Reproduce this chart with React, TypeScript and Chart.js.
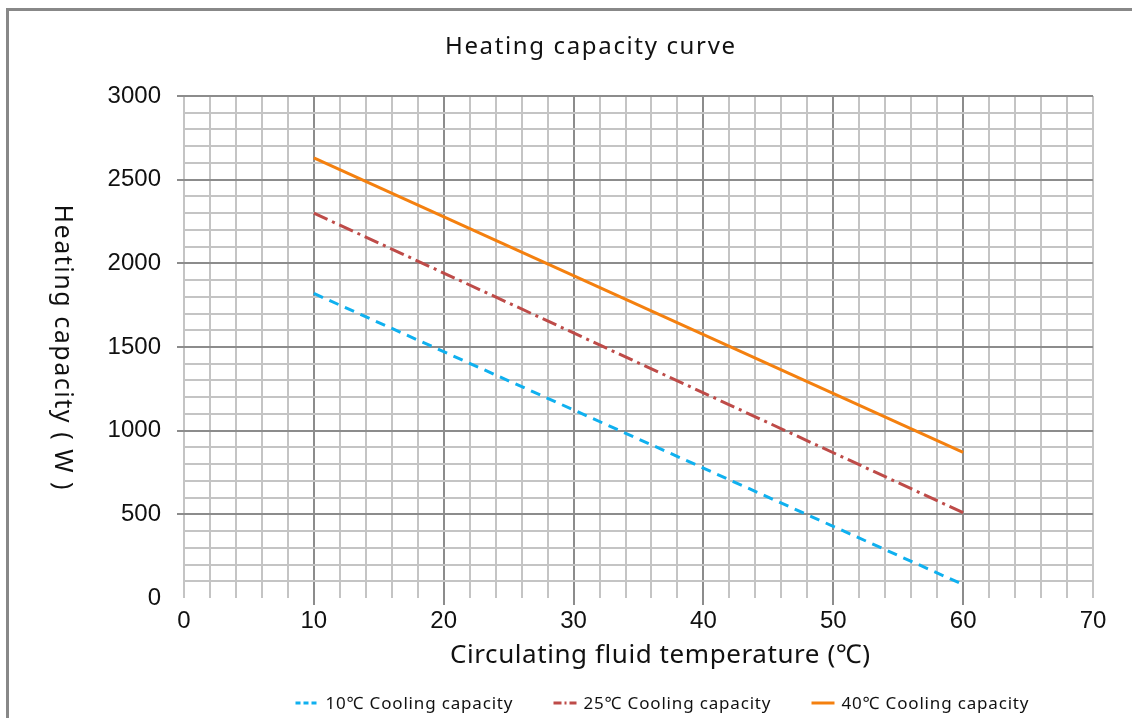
import React, { useEffect, useRef } from "react";
import { Chart, registerables } from "chart.js";

Chart.register(...registerables);

// ---- data ----
const xTemps = [10, 60];
const cooling10 = [1820, 80];
const cooling25 = [2300, 510];
const cooling40 = [2630, 870];
const seriesLabels = ["10℃ Cooling capacity", "25℃ Cooling capacity", "40℃ Cooling capacity"];
const chartTitle = "Heating capacity curve";
const xAxisTitle = "Circulating fluid temperature (℃)";
const yAxisTitle = "Heating capacity ( W )";
const xRange = [0, 70];
const yRange = [0, 3000];

// ---- styles ----
const seriesColors = ["#0fb0ef", "#be4b48", "#f4800f"];
const seriesDash = [[10, 7], [15, 5, 3, 5], []];
const legendDash = [[5, 3], [8, 3, 2, 3], []];
const MAJOR = "#8c8c8c";
const MINOR = "#c4c4c4";
const TICK_FONT = "'Liberation Sans', Arial, sans-serif";
const TEXT_FONT = "'Noto Sans', 'Open Sans', sans-serif";

function drawSpaced(ctx: any, text: string, x: number, y: number, targetWidth: number, align: string) {
  // letter spacing chosen so that the text spans the reference width
  ctx.letterSpacing = "0px";
  const base = ctx.measureText(text).width;
  const n = Math.max(1, [...text].length - 1);
  const sp = Math.max(0, (targetWidth - base) / n);
  ctx.letterSpacing = `${sp}px`;
  const w = base + sp * n;
  ctx.textAlign = "left";
  const left = align === "center" ? x - w / 2 : x;
  ctx.fillText(text, left, y);
  ctx.letterSpacing = "0px";
  return w;
}

const textPlugin = {
  id: "customText",
  afterDraw(chart: any) {
    const ctx: any = chart.ctx;
    const area = chart.chartArea;
    ctx.save();
    // outer frame
    ctx.strokeStyle = "#888888";
    ctx.lineWidth = 3;
    ctx.setLineDash([]);
    ctx.beginPath();
    ctx.moveTo(7.5, chart.height + 5);
    ctx.lineTo(7.5, 9.5);
    ctx.lineTo(chart.width + 5, 9.5);
    ctx.stroke();

    ctx.fillStyle = "#111";
    ctx.textBaseline = "middle";
    // main title
    ctx.font = `24px ${TEXT_FONT}`;
    drawSpaced(ctx, chartTitle, 590, 47, 290, "center");
    // x axis title
    ctx.font = `26px ${TEXT_FONT}`;
    drawSpaced(ctx, xAxisTitle, 660, 656, 420, "center");
    // y axis title (rotated clockwise)
    ctx.save();
    ctx.translate(62, (area.top + area.bottom) / 2);
    ctx.rotate(Math.PI / 2);
    ctx.font = `25px ${TEXT_FONT}`;
    drawSpaced(ctx, yAxisTitle, 0, 0, 285, "center");
    ctx.restore();

    // legend
    ctx.font = `17px ${TEXT_FONT}`;
    const markerW = 23;
    const markerGap = 7;
    const itemGap = 41;
    const textW = 187;
    const n = chart.data.datasets.length;
    const total = n * (markerW + markerGap + textW) + (n - 1) * itemGap;
    let x = 662 - total / 2;
    const y = 703;
    chart.data.datasets.forEach((d: any, i: number) => {
      ctx.strokeStyle = d.borderColor;
      ctx.lineWidth = 3;
      ctx.setLineDash(legendDash[i]);
      ctx.beginPath();
      ctx.moveTo(x, y);
      ctx.lineTo(x + markerW, y);
      ctx.stroke();
      ctx.setLineDash([]);
      ctx.fillStyle = "#111";
      drawSpaced(ctx, d.label, x + markerW + markerGap, y + 1, textW, "left");
      x += markerW + markerGap + textW + itemGap;
    });
    ctx.restore();
  },
};

export default function App() {
  const canvasRef = useRef<HTMLCanvasElement | null>(null);

  useEffect(() => {
    if (!canvasRef.current) return;
    const seriesValues = [cooling10, cooling25, cooling40];
    const chart = new Chart(canvasRef.current, {
      type: "line",
      data: {
        datasets: seriesValues.map((vals, i) => ({
          label: seriesLabels[i],
          data: xTemps.map((t, j) => ({ x: t, y: vals[j] })),
          borderColor: seriesColors[i],
          backgroundColor: seriesColors[i],
          borderDash: seriesDash[i],
          borderWidth: 3,
          pointRadius: 0,
          fill: false,
          tension: 0,
        })),
      },
      options: {
        animation: false,
        responsive: true,
        maintainAspectRatio: false,
        layout: { padding: { left: 0, right: 39, top: 96, bottom: 0 } },
        plugins: {
          legend: { display: false },
          title: { display: false },
          tooltip: { enabled: false },
        },
        scales: {
          x: {
            type: "linear",
            min: xRange[0],
            max: xRange[1],
            afterFit: (s: any) => {
              s.height = 120;
            },
            border: { display: false },
            grid: {
              lineWidth: 2,
              tickLength: 7,
              color: (c: any) => {
                const v = c.tick?.value;
                return v % 10 === 0 && v > xRange[0] && v < xRange[1] ? MAJOR : MINOR;
              },
              tickColor: (c: any) => {
                const v = c.tick?.value;
                return v % 10 === 0 && v > xRange[0] && v < xRange[1] ? MAJOR : "rgba(0,0,0,0)";
              },
            },
            ticks: {
              stepSize: 2,
              autoSkip: false,
              maxRotation: 0,
              padding: 2,
              color: "#111",
              font: { family: TICK_FONT, size: 24 },
              callback: (v: any) => (Number(v) % 10 === 0 ? String(v) : ""),
            },
          },
          y: {
            type: "linear",
            min: yRange[0],
            max: yRange[1],
            afterFit: (s: any) => {
              s.width = 184;
            },
            border: { display: false },
            grid: {
              lineWidth: 2,
              tickLength: 7,
              color: (c: any) => {
                const v = c.tick?.value;
                if (v === 0) return "rgba(0,0,0,0)";
                return v % 500 === 0 ? MAJOR : MINOR;
              },
              tickColor: (c: any) => {
                const v = c.tick?.value;
                return v % 500 === 0 && v > 0 ? MAJOR : "rgba(0,0,0,0)";
              },
            },
            ticks: {
              stepSize: 100,
              autoSkip: false,
              padding: 16,
              color: "#111",
              font: { family: TICK_FONT, size: 24 },
              callback: (v: any) => (Number(v) % 500 === 0 ? String(v) : ""),
            },
          },
        },
      },
      plugins: [textPlugin],
    });
    return () => chart.destroy();
  }, []);

  return (
    <div style={{ position: "fixed", left: 0, top: 0, width: 1132, height: 718, background: "#fff" }}>
      <canvas ref={canvasRef} />
    </div>
  );
}
